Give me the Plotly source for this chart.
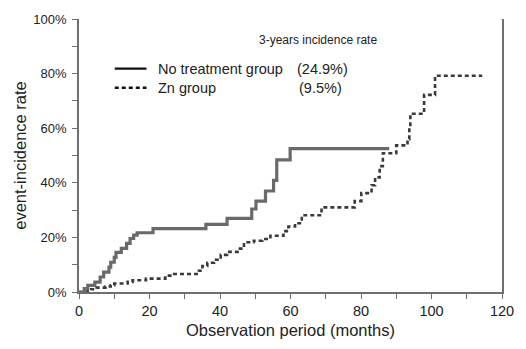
import plotly.graph_objects as go

# No treatment group (step points: time in months, cumulative incidence %)
no_treat_t = [0, 1.5, 2.5, 4.5, 6, 7, 8.5, 9, 10, 10.5, 12, 13.5, 14.5, 15.5, 16.5,
              21, 36, 42, 49, 50.2, 52.9, 55.2, 56.1, 59.9, 88]
no_treat_v = [0, 1.2, 2.4, 3.6, 5.5, 7.3, 9.1, 10.9, 12.7, 14.5, 16.0, 17.8, 19.6, 20.8, 21.7,
              23.2, 24.8, 27.0, 30.4, 33.3, 37.0, 40.9, 48.4, 52.5, 52.5]

# Zn group
zn_t = [0, 2.5, 3.5, 5, 7.5, 9, 10, 13.8, 15.2, 19, 24.5, 27, 34, 35, 36.4, 38.3, 40.2, 42,
        45, 46.8, 49.6, 52, 54.3, 58, 59.4, 61.3, 63.2, 68.8, 78.2, 80.1, 83, 84, 85.3, 86.2,
        90, 93.2, 93.7, 94, 97.9, 101, 114.4]
zn_v = [0, 0.6, 1.0, 1.6, 2.0, 2.5, 3.1, 3.7, 4.3, 4.9, 6.0, 6.6, 7.8, 9.5, 10.7, 11.8, 13.6, 14.7,
        15.9, 18.2, 18.8, 19.4, 20.6, 22.3, 24.0, 25.2, 28.1, 31.0, 33.3, 36.2, 39.1, 42.0, 46.1, 50.8,
        53.7, 56.0, 60.5, 65.3, 72.2, 79.2, 79.2]

x_ticks = [0, 20, 40, 60, 80, 100, 120]
y_ticks = [0, 20, 40, 60, 80, 100]
y_tick_labels = ["0%", "20%", "40%", "60%", "80%", "100%"]

FONT = "Liberation Sans, Arial, sans-serif"
TXT = "#222222"
AX = "#6e6e6e"

fig = go.Figure()
fig.add_trace(go.Scatter(x=zn_t, y=zn_v, mode="lines", line_shape="hv",
                         line=dict(color="#3a3a3a", width=2.6, dash="4px,3px"),
                         name="Zn group", showlegend=False))
fig.add_trace(go.Scatter(x=no_treat_t, y=no_treat_v, mode="lines", line_shape="hv",
                         line=dict(color="#6a6a6a", width=3.2),
                         name="No treatment group", showlegend=False))

fig.update_layout(
    width=526, height=349,
    margin=dict(l=79, r=21, t=13, b=50),
    paper_bgcolor="white", plot_bgcolor="white",
    font=dict(family=FONT, color=TXT),
    xaxis=dict(range=[0, 120], tickvals=x_ticks, ticks="outside", ticklen=5,
               tickcolor=AX, linecolor=AX, linewidth=1.8, showline=True, showgrid=False,
               zeroline=False, tickfont=dict(size=14.5, color=TXT),
               minor=dict(dtick=10, ticks="outside", ticklen=5, tickcolor=AX, showgrid=False),
               title=dict(text="Observation period (months)", font=dict(size=16.5, color=TXT), standoff=6)),
    yaxis=dict(range=[0, 100], tickvals=y_ticks, ticktext=y_tick_labels, ticks="outside", ticklen=5,
               tickcolor=AX, linecolor=AX, linewidth=1.8, showline=True, mirror=True,
               showgrid=False, zeroline=False, tickfont=dict(size=13, color=TXT),
               ticklabelstandoff=3,
               minor=dict(dtick=10, ticks="outside", ticklen=5, tickcolor=AX, showgrid=False),
               title=dict(text="event-incidence rate", font=dict(size=16.5, color=TXT), standoff=2)),
)

def px(xp):
    return (xp - 79) / 426.0

def py(yp):
    return (299 - yp) / 286.0

fig.add_annotation(x=px(258), y=py(35), xref="paper", yref="paper", xanchor="left", yanchor="middle",
                   text="3-years incidence rate", showarrow=False, font=dict(size=12, color=TXT))
fig.add_shape(type="line", xref="paper", yref="paper", x0=px(115), x1=px(147), y0=py(65), y1=py(65),
              line=dict(color="#111111", width=2.4))
fig.add_shape(type="line", xref="paper", yref="paper", x0=px(115), x1=px(147), y0=py(85), y1=py(85),
              line=dict(color="#111111", width=2.4, dash="4px,3px"))
fig.add_annotation(x=px(157), y=py(65), xref="paper", yref="paper", xanchor="left", yanchor="middle",
                   text="No treatment group", showarrow=False, font=dict(size=14.5, color=TXT))
fig.add_annotation(x=px(297), y=py(65), xref="paper", yref="paper", xanchor="left", yanchor="middle",
                   text="(24.9%)", showarrow=False, font=dict(size=14.5, color=TXT))
fig.add_annotation(x=px(157), y=py(85), xref="paper", yref="paper", xanchor="left", yanchor="middle",
                   text="Zn group", showarrow=False, font=dict(size=14.5, color=TXT))
fig.add_annotation(x=px(299), y=py(85), xref="paper", yref="paper", xanchor="left", yanchor="middle",
                   text="(9.5%)", showarrow=False, font=dict(size=14.5, color=TXT))

fig.write_html("out.html")
